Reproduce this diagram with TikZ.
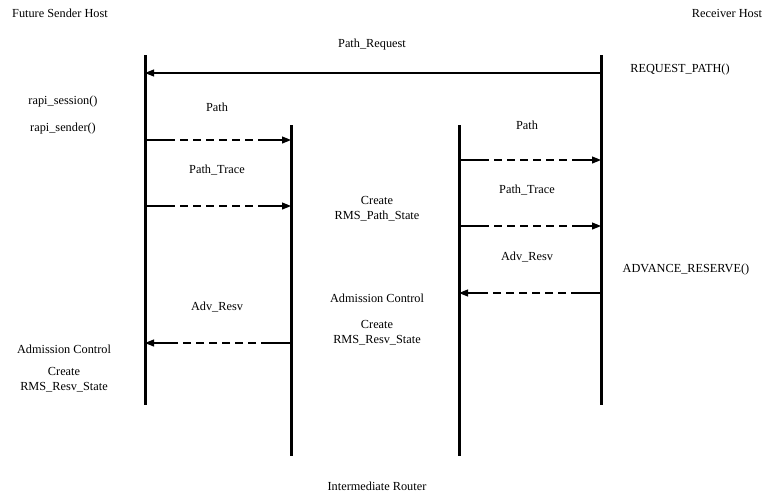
\documentclass[tikz,border=0pt]{standalone}
\usepackage{fontspec}
\setmainfont{Liberation Serif}
\usetikzlibrary{arrows.meta,positioning,calc}
\tikzset{
  lifeline/.style={line width=3pt},
  msgsolid/.style={-{Triangle[length=9pt,width=7pt]}, line width=1.1pt},
  msgdash/.style={-{Triangle[length=9pt,width=7pt]}, line width=1.1pt,
    dash pattern=on 30pt off 5pt on 8pt off 5pt on 8pt off 5pt on 8pt off 5pt on 8pt off 5pt on 8pt off 5pt on 8pt off 5pt on 60pt},
  msglabel/.style={font=\fontsize{12.3}{15}\selectfont, align=center, inner sep=1pt}
}

\begin{document}
\begin{tikzpicture}[x=1pt,y=-1pt]
\useasboundingbox (0,0) rectangle (763,493);
% lifelines
\coordinate (sndtop) at (145,55);  \coordinate (sndbot) at (145,405);
\coordinate (rtatop) at (291,125); \coordinate (rtabot) at (291,456);
\coordinate (rtbtop) at (459,125); \coordinate (rtbbot) at (459,456);
\coordinate (rcvtop) at (601,55);  \coordinate (rcvbot) at (601,405);
\draw[lifeline] (sndtop) -- (sndbot);
\draw[lifeline] (rtatop) -- (rtabot);
\draw[lifeline] (rtbtop) -- (rtbbot);
\draw[lifeline] (rcvtop) -- (rcvbot);
% host names
\node[msglabel] (sender) at (60,13) {Future Sender Host};
\node[msglabel] (receiver) at (727,13) {Receiver Host};
\node[msglabel] (router) at (377,486) {Intermediate Router};
% message heights
\coordinate (m1) at (0,73);
\coordinate (m2) at (0,140);
\coordinate (m3) at (0,206);
\coordinate (m4) at (0,160);
\coordinate (m5) at (0,226);
\coordinate (m6) at (0,293);
\coordinate (m7) at (0,343);
% messages
\draw[msgsolid] (rcvtop |- m1) -- (sndtop |- m1);
\draw[msgdash] (sndtop |- m2) -- (rtatop |- m2);
\draw[msgdash] (sndtop |- m3) -- (rtatop |- m3);
\draw[msgdash] (rtbtop |- m4) -- (rcvtop |- m4);
\draw[msgdash] (rtbtop |- m5) -- (rcvtop |- m5);
\draw[msgdash] (rcvtop |- m6) -- (rtbtop |- m6);
\draw[msgdash] (rtatop |- m7) -- (sndtop |- m7);
% message labels
\node[msglabel] (pathreq) at (372,45) {Path\_Request};
\node[msglabel] (patha) at (217,107) {Path};
\node[msglabel] (tracea) at (217,170) {Path\_Trace};
\node[msglabel] (pathb) at (527,125) {Path};
\node[msglabel] (traceb) at (527,190) {Path\_Trace};
\node[msglabel] (resvb) at (527,257) {Adv\_Resv};
\node[msglabel] (resva) at (217,307) {Adv\_Resv};
% host actions
\node[msglabel] (reqpath) at (680,70) {REQUEST\_PATH()};
\node[msglabel] (session) at (63,102) {rapi\_session()};
\node[msglabel] (rsender) at (63,129) {rapi\_sender()};
\node[msglabel] (advres) at (686,270) {ADVANCE\_RESERVE()};
\node[msglabel] (admsnd) at (64,349) {Admission Control};
\node[msglabel] (resvsnd) at (64,380) {Create\\RMS\_Resv\_State};
% router actions
\node[msglabel] (pathstate) at (377,209) {Create\\RMS\_Path\_State};
\node[msglabel] (admrt) at (377,298) {Admission Control};
\node[msglabel] (resvrt) at (377,333) {Create\\RMS\_Resv\_State};
\end{tikzpicture}
\end{document}
